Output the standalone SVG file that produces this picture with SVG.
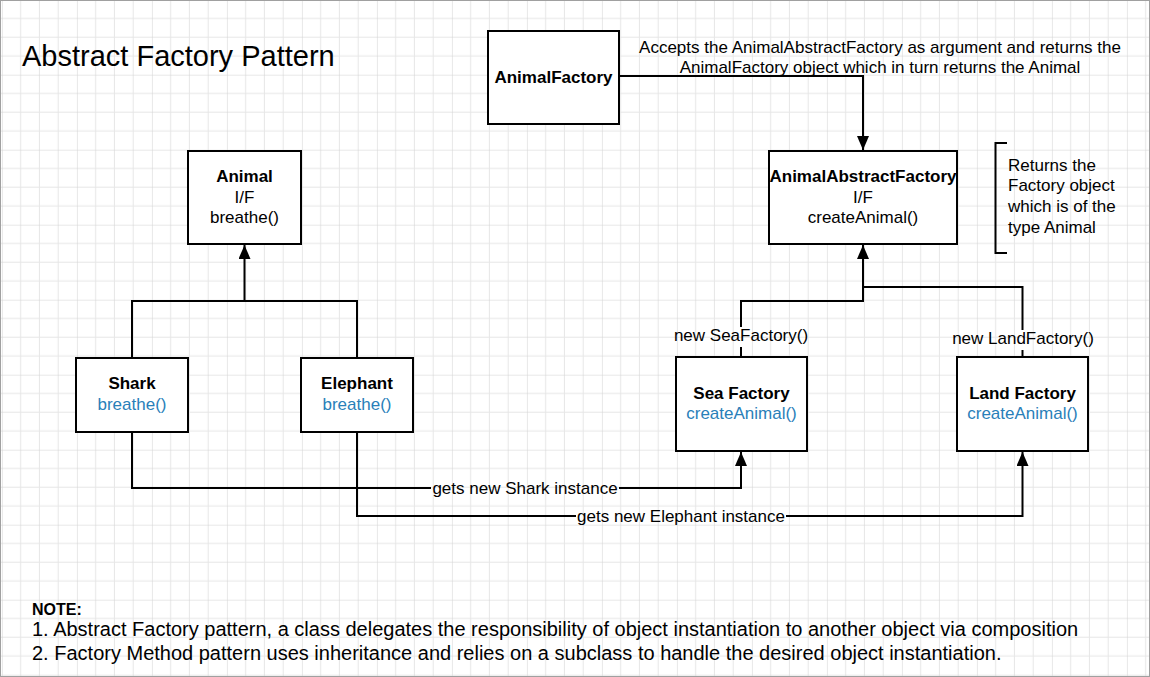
<svg xmlns="http://www.w3.org/2000/svg" width="1150" height="677" viewBox="0 0 1150 677">
<style>
text{font-family:"Liberation Sans",Arial,sans-serif;fill:#000}
.t{font-size:17px;text-anchor:middle}
.b{font-weight:bold}
.blue{fill:#2980b9}
.box{fill:#fff;stroke:#000;stroke-width:2}
.ln{fill:none;stroke:#000;stroke-width:2}
</style>
<defs>
<pattern id="grid" patternUnits="userSpaceOnUse" x="1.9" y="-0.3" width="75" height="75">
<path d="M18.75,0V75M37.5,0V75M56.25,0V75M0,18.75H75M0,37.5H75M0,56.25H75" stroke="#e6e6e6" stroke-width="1" fill="none"/>
<path d="M0,0V75M0,0H75" stroke="#d2d2d2" stroke-width="1" fill="none"/>
</pattern>
<marker id="arr" markerUnits="userSpaceOnUse" markerWidth="14" markerHeight="12" refX="14" refY="6" orient="auto">
<path d="M0,0L14,6L0,12z" fill="#000"/>
</marker>
</defs>
<rect width="1150" height="677" fill="#fff"/>
<rect width="1150" height="677" fill="url(#grid)"/>
<rect x="0.5" y="0.5" width="1149" height="676" fill="none" stroke="#a0a0a0" stroke-width="1"/>

<text x="22" y="66" style="font-size:29px">Abstract Factory Pattern</text>

<g id="connectors">
<path class="ln" d="M619,76H863V150" marker-end="url(#arr)"/>
<path class="ln" d="M132,358V301H357V358"/>
<path class="ln" d="M244.5,301V245" marker-end="url(#arr)"/>
<path class="ln" d="M741,357V347"/>
<path class="ln" d="M741,327V301H863V245" marker-end="url(#arr)"/>
<path class="ln" d="M1022.5,357V350"/>
<path class="ln" d="M1022.5,330V287H863"/>
<path class="ln" d="M132,432V488H431"/>
<path class="ln" d="M619,488H741V452" marker-end="url(#arr)"/>
<path class="ln" d="M357,432V516H576"/>
<path class="ln" d="M786,516H1022.5V452" marker-end="url(#arr)"/>
<text class="t" x="880" y="52.5">Accepts the AnimalAbstractFactory as argument and returns the</text>
<text class="t" x="880" y="72.5">AnimalFactory object which in turn returns the Animal</text>
<text class="t" x="741" y="341">new SeaFactory()</text>
<text class="t" x="1023" y="344">new LandFactory()</text>
<text class="t" x="525" y="494">gets new Shark instance</text>
<text class="t" x="681" y="522">gets new Elephant instance</text>
</g>

<g id="animalFactory">
<rect class="box" x="488" y="31" width="131" height="93"/>
<text class="t b" x="553.5" y="83">AnimalFactory</text>
</g>

<g id="animalAbstractFactory">
<rect class="box" x="769" y="151" width="188" height="93"/>
<text class="t b" x="863" y="182">AnimalAbstractFactory</text>
<text class="t" x="863" y="203">I/F</text>
<text class="t" x="863" y="223">createAnimal()</text>
</g>

<g id="note-returns">
<path class="ln" d="M1007,143H995.5V253H1007"/>
<text x="1008" y="171" style="font-size:17px">Returns the</text>
<text x="1008" y="191" style="font-size:17px">Factory object</text>
<text x="1008" y="212" style="font-size:17px">which is of the</text>
<text x="1008" y="232.5" style="font-size:17px">type Animal</text>
</g>

<g id="animal">
<rect class="box" x="188" y="151" width="113" height="93"/>
<text class="t b" x="244.5" y="182">Animal</text>
<text class="t" x="244.5" y="203">I/F</text>
<text class="t" x="244.5" y="223">breathe()</text>
</g>

<g id="shark">
<rect class="box" x="76" y="358" width="112" height="74"/>
<text class="t b" x="132" y="389">Shark</text>
<text class="t blue" x="132" y="409.5">breathe()</text>
</g>

<g id="elephant">
<rect class="box" x="301" y="358" width="112" height="74"/>
<text class="t b" x="357" y="389">Elephant</text>
<text class="t blue" x="357" y="409.5">breathe()</text>
</g>

<g id="seaFactory">
<rect class="box" x="676" y="357" width="131" height="94"/>
<text class="t b" x="741.5" y="398.5">Sea Factory</text>
<text class="t blue" x="741.5" y="419">createAnimal()</text>
</g>

<g id="landFactory">
<rect class="box" x="957" y="357" width="131" height="94"/>
<text class="t b" x="1022.5" y="398.5">Land Factory</text>
<text class="t blue" x="1022.5" y="419">createAnimal()</text>
</g>

<g id="note">
<text x="32" y="614.5" style="font-size:16px;font-weight:bold">NOTE:</text>
<text x="32" y="636" style="font-size:20px">1. Abstract Factory pattern, a class delegates the responsibility of object instantiation to another object via composition</text>
<text x="32" y="660" style="font-size:20px">2. Factory Method pattern uses inheritance and relies on a subclass to handle the desired object instantiation.</text>
</g>
</svg>
